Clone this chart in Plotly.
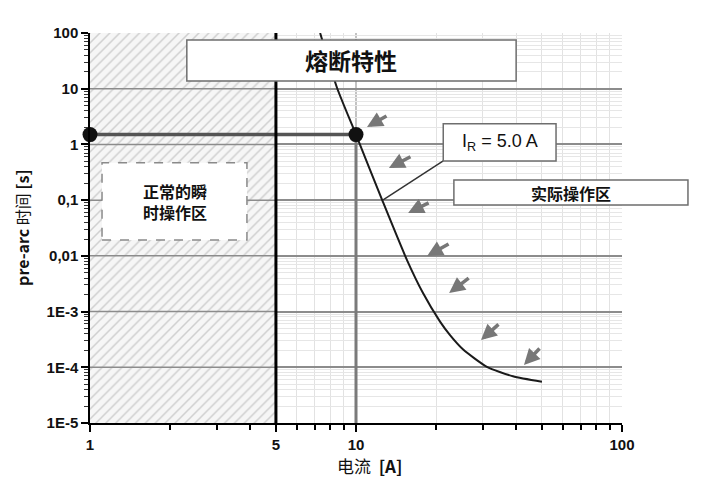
import numpy as np
import plotly.graph_objects as go

# ---------------- data ----------------
curve_current = [7.33, 8.49, 10, 12.6, 15.55, 17.86, 20.7, 22.57, 25.23, 31.05, 38.9, 50]
curve_time = [100, 10.3, 1.5, 0.095, 8.4e-3, 2.15e-3, 6.6e-4, 3.77e-4, 2.1e-4, 1.02e-4, 6.9e-5, 5.5e-5]

rated_current = 10
rated_time = 1.5
normal_zone = [1, 5]          # current range of the "normal transient" zone
y_limits = [1e-5, 100]

x_tickvals = [1, 5, 10, 100]
x_ticktext = ["1", "5", "10", "100"]
y_tickvals = [1e-5, 1e-4, 1e-3, 0.01, 0.1, 1, 10, 100]
y_ticktext = ["1E-5", "1E-4", "1E-3", "0,01", "0,1", "1", "10", "100"]

# arrow heads (current, time) and tail offsets in px
arrow_x = [11.0, 13.3, 15.7, 18.5, 22.4, 29.5, 42.8]
arrow_y = [2.05, 0.377, 0.0586, 0.0099, 0.00215, 3.08e-4, 1.10e-4]
arrow_dx = [21, 23, 22, 23, 21, 19, 17]
arrow_dy = [-12, -12, -11, -13, -16, -17, -18]

FONT = "Liberation Sans, Arial, Noto Sans CJK SC, sans-serif"
CJK = "Noto Sans CJK SC, Liberation Sans, sans-serif"

x_minor = [k * 10 ** e for e in range(0, 2) for k in range(2, 10) if not (e == 0 and k == 5)]
y_minor = [k * 10.0 ** e for e in range(-5, 2) for k in range(2, 10)]

fig = go.Figure()

# hatched zone
fig.add_trace(go.Scatter(
    x=[normal_zone[0], normal_zone[1], normal_zone[1], normal_zone[0], normal_zone[0]],
    y=[y_limits[0], y_limits[0], y_limits[1], y_limits[1], y_limits[0]],
    fill="toself", mode="lines", line=dict(width=0),
    fillcolor="#f4f4f4",
    fillpattern=dict(shape="/", fgcolor="#a8a8a8", bgcolor="#f6f6f6", size=7, solidity=0.22),
    hoverinfo="skip", showlegend=False))

# rated lines
fig.add_trace(go.Scatter(
    x=[normal_zone[0], rated_current], y=[rated_time, rated_time],
    mode="lines", line=dict(color="#555555", width=3.5), showlegend=False, cliponaxis=False))
fig.add_trace(go.Scatter(
    x=[rated_current, rated_current], y=[rated_time, y_limits[0]],
    mode="lines", line=dict(color="#7a7a7a", width=3), showlegend=False))

# fuse curve
fig.add_trace(go.Scatter(
    x=curve_current, y=curve_time, mode="lines",
    line=dict(color="#1a1a1a", width=2, shape="spline", smoothing=0.6), showlegend=False))

# points
fig.add_trace(go.Scatter(
    x=[normal_zone[0], rated_current], y=[rated_time, rated_time], mode="markers",
    marker=dict(color="#111111", size=15), cliponaxis=False, showlegend=False))

shapes = []
# major grid over hatched zone
for v in y_tickvals[1:-1]:
    shapes.append(dict(type="line", xref="x", yref="y", x0=normal_zone[0], x1=normal_zone[1],
                       y0=v, y1=v, line=dict(color="#8c8c8c", width=1.5), layer="above"))
# thin grid at 10 above the point
shapes.append(dict(type="line", xref="x", yref="y", x0=rated_current, x1=rated_current,
                   y0=rated_time, y1=y_limits[1], line=dict(color="#9a9a9a", width=1.2), layer="below"))
# vertical black line at 5
shapes.append(dict(type="line", xref="x", yref="paper", x0=normal_zone[1], x1=normal_zone[1],
                   y0=0, y1=1, line=dict(color="#000000", width=3), layer="above"))
# leader line for I_R box
shapes.append(dict(type="line", xref="paper", yref="paper", x0=0.664, y0=0.672, x1=0.551, y1=0.572,
                   line=dict(color="#333333", width=1.5), layer="above"))
# boxes
shapes.append(dict(type="rect", xref="paper", yref="paper", x0=0.182, x1=0.801, y0=0.877, y1=0.982,
                   fillcolor="white", line=dict(color="#6e6e6e", width=1.5), layer="above"))
shapes.append(dict(type="rect", xref="paper", yref="paper", x0=0.664, x1=0.876, y0=0.672, y1=0.767,
                   fillcolor="white", line=dict(color="#6e6e6e", width=1.5), layer="above"))
shapes.append(dict(type="rect", xref="paper", yref="paper", x0=0.684, x1=1.124, y0=0.559, y1=0.623,
                   fillcolor="white", line=dict(color="#6e6e6e", width=1.5), layer="above"))
shapes.append(dict(type="rect", xref="paper", yref="paper", x0=0.0226, x1=0.295, y0=0.469, y1=0.667,
                   fillcolor="white", line=dict(color="#8a8a8a", width=1.5, dash="dash"), layer="above"))


def label(x, y, text, font, **kw):
    return dict(x=x, y=y, xref="paper", yref="paper", text=text, showarrow=False,
                xanchor="center", yanchor="middle", font=font, **kw)


annotations = [
    label(0.4915, 0.93, "熔断特性", dict(family=CJK, size=23, color="#111111", weight="bold")),
    label(0.77, 0.72, "I<sub>R</sub> = 5.0 A", dict(family=FONT, size=18, color="#111111")),
    label(0.904, 0.591, "实际操作区", dict(family=CJK, size=16, color="#111111", weight="bold")),
    label(0.159, 0.568, "正常的瞬<br>时操作区", dict(family=CJK, size=16, color="#111111", weight="bold"),
          align="center"),
    label(-0.128, 0.5, "<b>pre-arc</b> 时间 <b>[s]</b>", dict(family=CJK, size=16, color="#111111"),
          textangle=-90),
    label(0.526, -0.108, "电流  <b>[A]</b>", dict(family=CJK, size=17, color="#111111")),
]
for ax_, ay_, dx, dy in zip(arrow_x, arrow_y, arrow_dx, arrow_dy):
    annotations.append(dict(x=np.log10(ax_), y=np.log10(ay_), xref="x", yref="y", ax=dx, ay=dy,
                            text="", showarrow=True, arrowhead=2, arrowsize=0.9, arrowwidth=3.5,
                            arrowcolor="#777777"))

# page body has an 8px default margin: size/margins compensate so the plot area
# lands at the same place as in the reference
fig.update_layout(
    width=702, height=477,
    margin=dict(l=82, r=88, t=25, b=62),
    paper_bgcolor="white", plot_bgcolor="white",
    shapes=shapes, annotations=annotations, showlegend=False,
    xaxis=dict(type="log", range=[0, 2], tickvals=x_tickvals, ticktext=x_ticktext,
               showgrid=False, zeroline=False, showline=True, linecolor="#000000", linewidth=2,
               ticks="outside", ticklen=7, tickwidth=2, tickcolor="#000000",
               tickfont=dict(family=FONT, size=15, color="#111111", weight="bold"),
               minor=dict(tickvals=x_minor, ticks="outside", ticklen=5, tickwidth=1.5,
                          tickcolor="#000000", showgrid=True, gridcolor="#e2e2e2", gridwidth=1)),
    yaxis=dict(type="log", range=[-5, 2], tickvals=y_tickvals, ticktext=y_ticktext,
               showgrid=True, gridcolor="#8c8c8c", gridwidth=1.5, zeroline=False,
               showline=True, linecolor="#000000", linewidth=1.5,
               ticks="outside", ticklen=7, tickwidth=2, tickcolor="#000000",
               tickfont=dict(family=FONT, size=15, color="#111111", weight="bold"),
               minor=dict(tickvals=y_minor, ticks="outside", ticklen=4, tickwidth=1,
                          tickcolor="#333333", showgrid=True, gridcolor="#e6e6e6", gridwidth=1)),
)

fig.write_html("out.html")
